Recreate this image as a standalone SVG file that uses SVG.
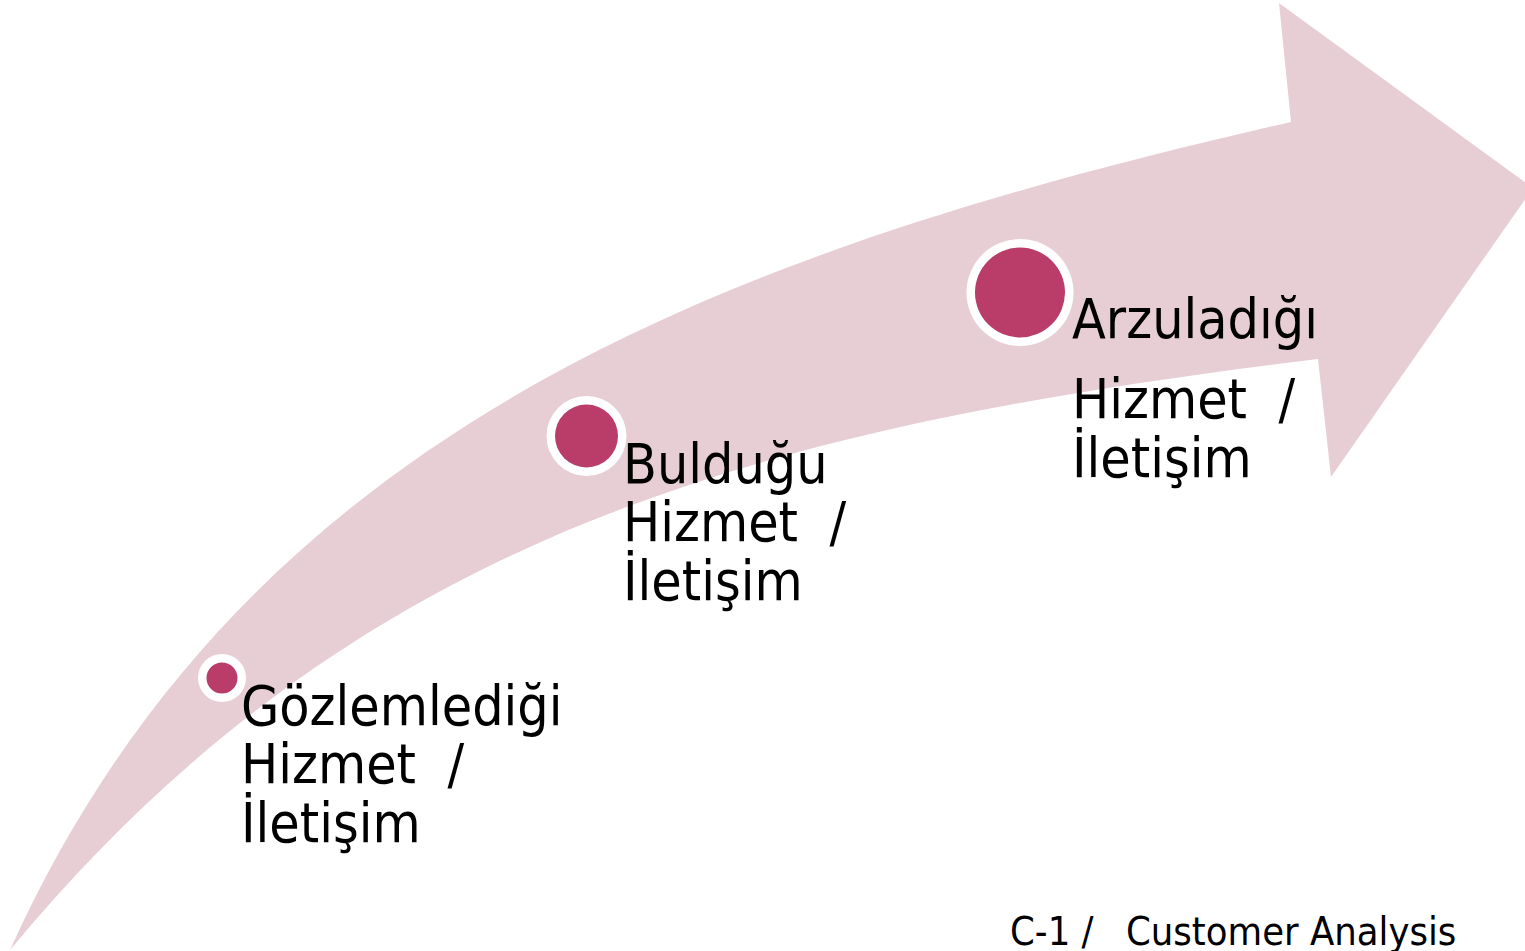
<svg xmlns="http://www.w3.org/2000/svg" width="1525" height="951" viewBox="0 0 1525 951">
<style>
.lbl{font-family:"DejaVu Sans Condensed","DejaVu Sans",sans-serif;font-stretch:condensed;font-size:55px;fill:#000}
.foot{font-family:"DejaVu Sans Condensed","DejaVu Sans",sans-serif;font-stretch:condensed;font-size:39.5px;fill:#000}
.ring{fill:#ffffff}
.dot{fill:#B93D68}
</style>
<rect width="1525" height="951" fill="#ffffff"/>
<g id="arrow">
<path d="M10,950 C246,427 730,250 1291,122 L1279,3 L1533,188 L1331,477 L1318,359 C772,426 361,526.5 10,950 Z" fill="#E7CED5"/>
</g>
<g id="connectors"></g>
<g id="node1">
<circle class="ring" cx="222" cy="678" r="24"/>
<circle class="dot" cx="222" cy="678" r="15.5"/>
<text class="lbl" x="241" xml:space="preserve"><tspan x="241" y="725">Gözlemlediği</tspan><tspan x="241" y="783">Hizmet  /</tspan><tspan x="241" y="842">İletişim</tspan></text>
</g>
<g id="node2">
<circle class="ring" cx="586.5" cy="436" r="40"/>
<circle class="dot" cx="586.5" cy="436" r="31.5"/>
<text class="lbl" x="623" xml:space="preserve"><tspan x="623" y="483">Bulduğu</tspan><tspan x="623" y="541">Hizmet  /</tspan><tspan x="623" y="600">İletişim</tspan></text>
</g>
<g id="node3">
<circle class="ring" cx="1020" cy="292.5" r="53.5"/>
<circle class="dot" cx="1020" cy="292.5" r="45"/>
<text class="lbl" x="1072" xml:space="preserve"><tspan x="1072" y="338">Arzuladığı</tspan><tspan x="1072" y="418">Hizmet  /</tspan><tspan x="1072" y="477">İletişim</tspan></text>
</g>
<g id="footer">
<text class="foot" x="1010" y="945" xml:space="preserve">C-1 /  <tspan x="1126">Customer Analysis</tspan></text>
</g>
</svg>
